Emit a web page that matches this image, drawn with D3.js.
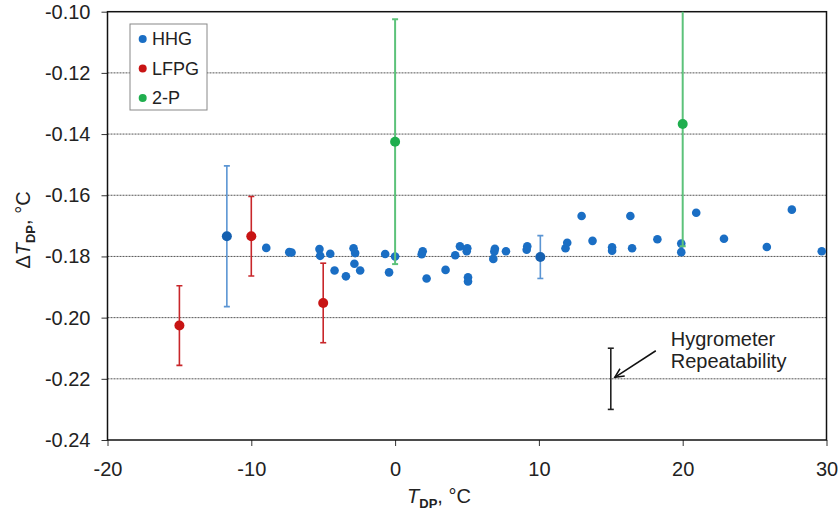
<!DOCTYPE html>
<html>
<head>
<meta charset="utf-8">
<script src="https://cdn.jsdelivr.net/npm/d3@7/dist/d3.min.js"></script>
<style>
  html, body { margin: 0; padding: 0; background: #fff; }
  svg { display: block; font-family: "Liberation Sans", Arial, sans-serif; }
</style>
</head>
<body>
<svg id="chart" width="838" height="514"></svg>
<script>
// ---------- data ----------
const seriesNames = ["HHG", "LFPG", "2-P"];
const seriesColors = ["#1a6ec4", "#c81414", "#1fae4e"];
const barColors = ["#5b95d3", "#c8262a", "#5cc27a"];

// HHG plain points
const hhgT = [-8.96, -7.36, -7.2, -5.26, -5.21, -4.51, -4.21, -3.42, -2.89, -2.78, -2.83, -2.43,
  -0.69, -0.42, 0.0, 1.92, 1.85, 2.19, 3.51, 4.18, 4.51, 5.02, 4.98, 5.07, 5.07, 6.83, 6.94, 6.9,
  7.71, 9.15, 9.19, 11.85, 11.97, 12.97, 13.73, 15.09, 15.09, 16.36, 16.48, 18.24, 19.9, 19.9,
  20.94, 22.87, 25.85, 27.59, 29.67];
const hhgD = [-0.1772, -0.1786, -0.1787, -0.1776, -0.1798, -0.1791, -0.1846, -0.1865, -0.1773, -0.1789, -0.1824, -0.1846,
  -0.1792, -0.1852, -0.1800, -0.1783, -0.1793, -0.1872, -0.1844, -0.1796, -0.1767, -0.1773, -0.1783, -0.1868, -0.1882, -0.1808, -0.1775, -0.1784,
  -0.1783, -0.1778, -0.1767, -0.1773, -0.1755, -0.1668, -0.1749, -0.1770, -0.1781, -0.1668, -0.1773, -0.1744, -0.1758, -0.1786,
  -0.1657, -0.1742, -0.1769, -0.1647, -0.1783];

// points with uncertainty bars
const hhgBarT = [-11.7, 10.1];
const hhgBarD = [-0.1734, -0.1802];
const hhgBarErr = [0.023, 0.007];

const lfpgT = [-15, -10, -5];
const lfpgD = [-0.2026, -0.1734, -0.1952];
const lfpgErr = [0.013, 0.013, 0.013];

const p2T = [0, 20];
const p2D = [-0.1425, -0.1367];
const p2Err = [0.040, 0.040];

// hygrometer repeatability
const repT = 15, repD = -0.22, repErr = 0.01;

const xTicks = [-20, -10, 0, 10, 20, 30];
const yTicks = [-0.10, -0.12, -0.14, -0.16, -0.18, -0.20, -0.22, -0.24];
const yTickLabels = ["-0.10", "-0.12", "-0.14", "-0.16", "-0.18", "-0.20", "-0.22", "-0.24"];
const annotationLines = ["Hygrometer", "Repeatability"];

// ---------- layout ----------
const svg = d3.select("#chart");
const m = { left: 107.5, right: 11.5, top: 11.7, bottom: 74 };
const W = 838, H = 514;
const x = d3.scaleLinear().domain([-20, 30]).range([m.left, W - m.right]);
const y = d3.scaleLinear().domain([-0.24, -0.10]).range([H - m.bottom, m.top]);

svg.append("defs").append("clipPath").attr("id", "clip")
  .append("rect").attr("x", m.left).attr("y", m.top)
  .attr("width", W - m.right - m.left).attr("height", H - m.bottom - m.top);

// gridlines
svg.append("g").selectAll("line")
  .data(yTicks.filter(v => v > -0.235 && v < -0.105))
  .join("line")
  .attr("x1", m.left).attr("x2", W - m.right)
  .attr("y1", d => y(d)).attr("y2", d => y(d))
  .attr("stroke", "#555").attr("stroke-width", 1).attr("stroke-dasharray", "2,1");

// axes
const yAxis = d3.axisLeft(y).tickValues(yTicks).tickSize(6).tickPadding(11)
  .tickFormat((d, i) => yTickLabels[i]);
const gy = svg.append("g").attr("transform", `translate(${m.left},0)`).call(yAxis);
const xAxis = d3.axisBottom(x).tickValues(xTicks).tickSize(6).tickPadding(16)
  .tickFormat(d => String(d));
const gx = svg.append("g").attr("transform", `translate(0,${H - m.bottom})`).call(xAxis);
[gx, gy].forEach(g => {
  g.select(".domain").remove();
  g.selectAll(".tick line").attr("stroke", "#333").attr("stroke-width", 1);
  g.selectAll(".tick text").attr("fill", "#222").style("font-size", "20px")
    .style("font-family", '"Liberation Sans", Arial, sans-serif');
});

// frame
svg.append("rect").attr("x", m.left).attr("y", m.top)
  .attr("width", W - m.right - m.left).attr("height", H - m.bottom - m.top)
  .attr("fill", "none").attr("stroke", "#111").attr("stroke-width", 1.5);

const plot = svg.append("g").attr("clip-path", "url(#clip)");

function errorBars(T, D, E, color, width) {
  const g = plot.append("g").attr("stroke", color).attr("stroke-width", width);
  T.forEach((t, i) => {
    const cx = x(t), y1 = y(D[i] + E[i]), y2 = y(D[i] - E[i]);
    g.append("line").attr("x1", cx).attr("x2", cx).attr("y1", y1).attr("y2", y2);
    g.append("line").attr("x1", cx - 3).attr("x2", cx + 3).attr("y1", y1).attr("y2", y1);
    g.append("line").attr("x1", cx - 3).attr("x2", cx + 3).attr("y1", y2).attr("y2", y2);
  });
}
function dots(T, D, color, r) {
  plot.append("g").selectAll("circle").data(T).join("circle")
    .attr("cx", d => x(d)).attr("cy", (d, i) => y(D[i])).attr("r", r).attr("fill", color);
}

// HHG
dots(hhgT, hhgD, seriesColors[0], 4.3);
errorBars(hhgBarT, hhgBarD, hhgBarErr, barColors[0], 1.6);
dots(hhgBarT, hhgBarD, "#1560b0", 5);
// LFPG
errorBars(lfpgT, lfpgD, lfpgErr, barColors[1], 1.6);
dots(lfpgT, lfpgD, seriesColors[1], 5);
// 2-P
errorBars(p2T, p2D, p2Err, barColors[2], 2);
dots(p2T, p2D, seriesColors[2], 5);

// repeatability bar
errorBars([repT], [repD], [repErr], "#222", 1.6);
const rx = x(repT);
const ann = svg.append("g");
ann.append("line")
  .attr("x1", rx + 45).attr("y1", y(-0.2105) + 1)
  .attr("x2", rx + 4).attr("y2", y(-0.2195))
  .attr("stroke", "#111").attr("stroke-width", 1.5);
// arrow head (open)
(function () {
  const x2 = rx + 4, y2 = y(-0.2195), x1 = rx + 45, y1 = y(-0.2105) + 1;
  const a = Math.atan2(y1 - y2, x1 - x2), L = 10, s = 0.45;
  ann.append("path")
    .attr("d", `M${x2 + L * Math.cos(a - s)},${y2 + L * Math.sin(a - s)}L${x2},${y2}L${x2 + L * Math.cos(a + s)},${y2 + L * Math.sin(a + s)}`)
    .attr("fill", "none").attr("stroke", "#111").attr("stroke-width", 1.5);
})();
ann.selectAll("text").data(annotationLines).join("text")
  .attr("x", rx + 60).attr("y", (d, i) => y(-0.2105) - 4 + i * 22)
  .attr("fill", "#222").style("font-size", "20px").text(d => d);

// legend
const lg = svg.append("g");
lg.append("rect").attr("x", 130).attr("y", 24).attr("width", 77).attr("height", 86)
  .attr("fill", "#fff").attr("stroke", "#888").attr("stroke-width", 1);
seriesNames.forEach((n, i) => {
  const cy = 39 + i * 29.5;
  lg.append("circle").attr("cx", 142.7).attr("cy", cy).attr("r", 4).attr("fill", seriesColors[i]);
  lg.append("text").attr("x", 152).attr("y", cy).attr("dy", "0.36em")
    .attr("fill", "#222").style("font-size", "18px").text(n);
});

// x-axis title
const xt = svg.append("text").attr("x", 439).attr("y", 503).attr("text-anchor", "middle")
  .attr("fill", "#222").style("font-size", "20px");
xt.append("tspan").style("font-style", "italic").text("T");
xt.append("tspan").attr("dy", 5).style("font-size", "13px").style("font-weight", "bold").text("DP");
xt.append("tspan").attr("dy", -5).text(", °C");

// y-axis title
const yt = svg.append("text")
  .attr("transform", `translate(30,230) rotate(-90)`)
  .attr("text-anchor", "middle").attr("fill", "#222").style("font-size", "20px");
yt.append("tspan").text("Δ");
yt.append("tspan").style("font-style", "italic").text("T");
yt.append("tspan").attr("dy", 5).style("font-size", "13px").style("font-weight", "bold").text("DP");
yt.append("tspan").attr("dy", -5).text(", °C");
</script>
</body>
</html>
